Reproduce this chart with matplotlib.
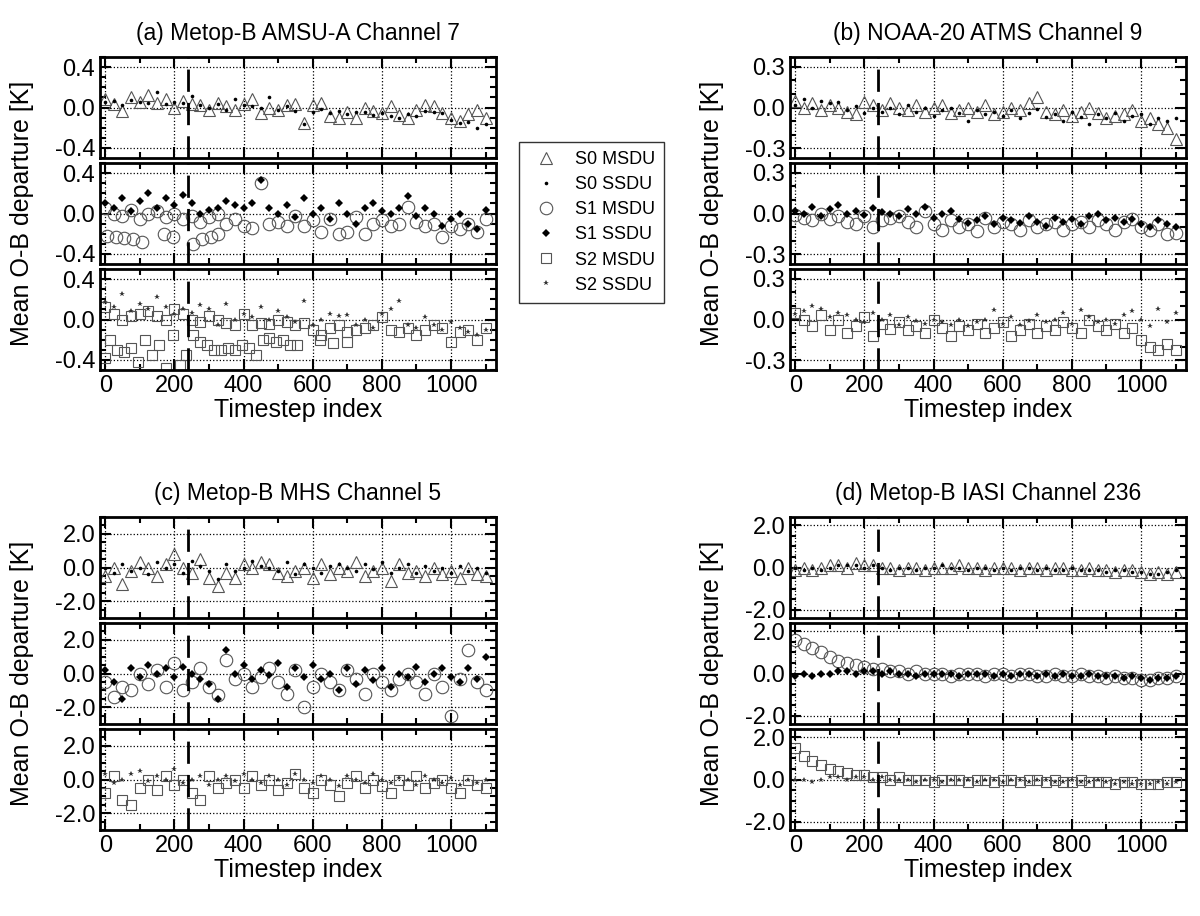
import matplotlib

matplotlib.use("Agg")
import matplotlib.pyplot as plt
from matplotlib.lines import Line2D
from matplotlib.ticker import MultipleLocator, FormatStrFormatter

plt.rcParams["font.family"] = ["Liberation Sans", "DejaVu Sans"]

X = list(range(0, 1101, 25))

# (a) Metop-B AMSU-A Channel 7
a1_s0m = [0.08,0.03,-0.03,0.10,0.05,0.12,0.04,0.08,0.00,0.06,0.03,0.02,-0.02,0.04,0.01,-0.02,0.03,0.08,-0.05,0.00,-0.02,0.02,0.03,-0.15,0.02,0.04,-0.08,-0.10,-0.04,-0.10,0.00,-0.03,-0.05,0.01,-0.07,-0.10,-0.02,0.02,0.01,-0.05,-0.10,-0.13,-0.06,-0.02,-0.10]
a1_s0s = [0.05,0.06,0.02,0.07,0.05,0.04,0.15,0.03,0.05,0.04,0.11,0.02,0.00,0.03,-0.02,0.08,0.02,0.01,0.00,0.10,-0.02,0.01,-0.03,-0.16,-0.04,-0.01,-0.05,-0.03,-0.06,-0.04,-0.04,-0.07,-0.05,-0.08,-0.10,-0.06,-0.08,-0.03,-0.04,-0.05,-0.12,-0.15,-0.14,-0.20,-0.16]
a2_s1m = [0.05,0.00,-0.02,0.03,-0.05,0.00,0.02,-0.03,0.00,-0.05,-0.02,-0.08,-0.03,0.00,-0.10,-0.05,-0.12,-0.14,0.30,-0.10,-0.08,-0.12,-0.02,-0.12,-0.06,-0.18,-0.05,-0.20,-0.18,-0.03,-0.20,-0.10,-0.06,-0.12,-0.10,0.06,-0.08,-0.12,-0.10,-0.23,-0.12,-0.15,-0.10,-0.18,-0.05]
a2_low_x = [5,30,55,80,105,170,195,255,280,305,325]
a2_low = [-0.22,-0.23,-0.24,-0.25,-0.28,-0.20,-0.23,-0.30,-0.25,-0.23,-0.20]
a2_s1s = [0.10,0.05,0.15,0.02,0.12,0.20,0.05,0.15,0.08,0.18,0.10,0.00,0.03,0.05,0.12,0.08,0.05,0.10,0.33,0.05,0.00,0.08,-0.03,0.15,0.00,0.05,-0.05,0.10,0.00,-0.10,0.05,0.10,0.02,0.00,0.05,0.17,-0.02,0.05,0.00,-0.12,-0.05,0.00,-0.10,-0.15,0.03]
a3_s2m = [0.12,0.05,0.00,0.03,0.05,0.08,0.03,0.00,0.10,0.05,0.00,-0.02,0.03,0.00,-0.03,-0.05,0.05,-0.05,-0.03,-0.04,0.00,-0.02,-0.05,-0.03,-0.10,-0.15,-0.08,-0.05,-0.12,-0.10,-0.08,-0.05,0.02,-0.10,-0.12,-0.08,-0.15,-0.10,-0.05,-0.08,-0.22,-0.12,-0.10,-0.20,-0.08]
a3_low_x = [0,15,35,55,75,95,115,135,155,175,195,215,235,255,275,295,315,335,355,375,395,415,435,455,475,495,515,535,555,620,660,700]
a3_low = [-0.38,-0.20,-0.30,-0.32,-0.28,-0.42,-0.20,-0.35,-0.25,-0.48,-0.15,-0.45,-0.35,-0.15,-0.22,-0.25,-0.30,-0.30,-0.28,-0.30,-0.25,-0.28,-0.35,-0.20,-0.18,-0.22,-0.20,-0.25,-0.25,-0.20,-0.23,-0.22]
a3_s2s = [0.17,0.12,0.25,0.08,0.15,0.10,0.22,0.12,0.05,0.10,0.06,0.14,0.10,-0.05,0.15,0.00,0.05,0.02,0.12,0.00,0.08,0.02,-0.02,0.18,-0.05,0.00,0.05,0.03,0.04,-0.05,0.00,-0.08,0.05,0.10,0.18,-0.05,-0.08,0.02,-0.05,-0.10,-0.02,-0.08,-0.12,-0.15,-0.10]

# (b) NOAA-20 ATMS Channel 9
b1_s0m = [0.05,0.00,0.03,-0.02,0.02,0.00,-0.03,-0.05,0.04,0.02,-0.02,0.03,0.00,-0.02,0.02,-0.03,0.00,0.02,-0.04,-0.02,0.00,-0.03,0.02,-0.05,-0.03,0.00,-0.02,0.03,0.08,-0.03,-0.05,-0.02,-0.06,-0.03,0.00,-0.04,-0.08,-0.06,-0.05,-0.02,-0.10,-0.08,-0.12,-0.15,-0.23]
b1_s0s = [0.02,0.06,0.00,0.05,0.03,0.04,-0.02,0.01,-0.04,0.00,-0.03,0.00,-0.05,0.02,-0.03,0.00,-0.06,-0.02,0.00,-0.04,-0.10,-0.02,-0.05,-0.03,-0.06,-0.02,-0.08,-0.04,-0.01,-0.07,-0.05,-0.10,-0.03,-0.07,-0.12,-0.05,-0.08,-0.04,-0.10,-0.06,-0.05,-0.12,-0.08,-0.10,-0.08]
b2_s1m = [-0.01,-0.03,-0.05,0.00,-0.04,-0.02,-0.06,-0.08,-0.02,-0.10,-0.05,-0.03,-0.02,-0.06,-0.10,0.02,-0.08,-0.12,-0.05,-0.10,-0.08,-0.13,-0.03,-0.10,-0.06,-0.08,-0.12,-0.05,-0.10,-0.08,-0.06,-0.12,-0.08,-0.06,-0.10,-0.05,-0.08,-0.12,-0.06,-0.04,-0.10,-0.12,-0.08,-0.15,-0.14]
b2_s1s = [0.02,0.00,0.05,-0.02,0.03,0.06,0.00,0.02,-0.01,0.04,0.01,0.00,-0.02,0.03,0.00,0.05,-0.03,0.00,0.02,-0.04,-0.07,-0.05,-0.02,-0.08,-0.03,-0.05,-0.07,-0.02,-0.06,-0.09,-0.03,-0.06,-0.04,-0.08,-0.02,0.00,-0.05,-0.03,-0.06,-0.04,-0.08,-0.10,-0.05,-0.08,-0.10]
b3_s2m = [0.05,0.00,-0.05,0.03,-0.08,0.00,-0.10,-0.05,0.02,-0.12,-0.03,-0.07,-0.02,-0.08,-0.05,-0.10,0.00,-0.06,-0.12,-0.05,-0.08,-0.03,-0.10,-0.06,-0.02,-0.12,-0.08,-0.03,-0.10,-0.05,-0.08,-0.02,-0.06,-0.10,0.00,-0.05,-0.08,-0.03,-0.10,-0.06,-0.15,-0.20,-0.22,-0.18,-0.22]
b3_s2s = [0.04,0.06,0.10,0.08,0.02,0.05,0.03,0.00,-0.02,0.05,0.00,0.03,-0.04,0.02,-0.01,-0.03,0.00,-0.02,-0.04,0.00,-0.05,-0.02,0.00,0.07,-0.03,0.02,-0.04,-0.01,0.03,-0.02,0.00,0.05,-0.03,0.07,0.02,-0.02,0.00,-0.03,0.03,0.06,0.00,-0.05,0.08,-0.02,0.05]

# (c) Metop-B MHS Channel 5
c1_s0m = [-0.5,0.0,-1.0,-0.2,0.3,0.0,-0.5,0.2,0.8,0.0,-0.3,0.5,-0.6,-1.1,-0.3,-0.6,0.2,0.0,0.3,0.2,-0.3,-0.5,-0.2,0.0,-0.6,0.2,-0.4,0.0,-0.2,0.3,-0.5,-0.2,0.0,-0.8,0.2,-0.3,-0.2,-0.5,0.0,-0.4,-0.2,-0.6,0.0,-0.4,-0.5]
c1_s0s = [0.0,-0.3,0.2,-0.2,0.0,-0.4,0.3,0.0,0.2,-0.3,0.4,0.1,-0.2,-0.7,0.2,-0.2,0.0,0.4,0.1,0.0,-0.2,0.3,-0.4,0.2,0.0,-0.3,0.1,0.2,0.0,-0.2,0.2,-0.1,0.3,-0.3,0.0,0.2,-0.3,0.1,-0.2,0.0,-0.3,0.1,-0.2,0.0,-0.3]
c2_s1m = [-0.5,-1.4,-0.8,-1.0,0.0,-0.6,0.2,-0.8,0.6,-1.0,-0.5,0.3,-0.8,-1.3,0.8,-0.3,0.0,-0.8,-0.2,0.3,-0.5,-1.2,0.2,-2.0,-0.8,0.0,-0.5,-1.0,0.2,-0.3,-1.2,0.0,-0.5,-1.0,-0.3,0.0,-0.5,-1.2,0.0,-0.8,-2.5,-0.3,1.4,-0.5,-1.0]
c2_s1s = [0.2,-0.5,-1.5,0.3,-0.2,0.5,0.0,0.3,-0.2,0.4,0.0,-0.3,-0.6,-1.5,1.4,0.0,0.5,-0.3,0.2,-0.1,0.6,-0.8,0.3,-0.2,0.5,-0.3,0.0,-1.0,0.3,-0.6,0.2,-0.4,0.3,-0.8,0.0,-0.2,0.4,-0.5,0.0,0.3,-0.2,-0.5,0.3,-0.3,1.0]
c3_s2m = [-0.8,0.2,-1.2,-1.5,-0.5,0.0,-0.6,0.2,-0.3,0.0,-0.8,-1.2,0.2,-0.5,-0.2,0.0,-0.5,0.2,-0.3,0.0,-0.6,-0.2,0.3,-0.5,-0.8,0.0,-0.3,-1.0,-0.2,0.2,-0.5,0.0,-0.4,-0.8,0.0,-0.3,0.2,-0.5,-0.2,0.0,-0.5,-0.8,0.0,-0.3,-0.5]
c3_s2s = [0.3,-0.2,0.0,0.3,0.5,-0.1,0.2,0.0,0.6,-0.2,0.0,0.2,-0.3,0.0,0.2,-0.1,0.3,0.0,-0.2,0.2,0.0,-0.3,0.3,0.0,-0.2,0.2,0.0,-0.4,0.2,0.0,-0.2,0.3,0.0,-0.2,0.1,0.0,-0.3,0.2,0.0,-0.2,0.1,-0.3,0.0,-0.2,0.0]

# (d) Metop-B IASI Channel 236
d1_s0m = [-0.1,0.0,-0.1,0.0,0.1,0.1,0.0,0.2,0.1,0.1,0.0,0.0,-0.1,0.0,0.0,-0.1,0.0,0.0,0.0,0.1,0.0,0.0,-0.1,0.0,0.0,0.0,-0.1,0.0,0.0,-0.1,0.0,0.0,-0.1,-0.1,0.0,-0.1,-0.1,-0.2,-0.1,-0.1,-0.2,-0.3,-0.2,-0.3,-0.2]
d1_s0s = [0.0,-0.1,0.0,-0.1,0.0,0.1,0.1,0.1,0.0,0.1,0.0,-0.1,0.0,0.0,-0.1,0.0,0.0,0.1,0.0,0.0,-0.1,0.0,0.0,-0.1,0.0,-0.1,0.0,0.0,-0.1,0.0,-0.1,-0.1,0.0,-0.1,-0.1,-0.1,-0.2,-0.1,-0.1,-0.2,-0.2,-0.3,-0.3,-0.2,-0.1]
d2_s1m = [1.6,1.4,1.2,1.0,0.8,0.6,0.5,0.4,0.3,0.2,0.2,0.1,0.1,0.0,0.1,0.0,0.0,0.0,-0.1,0.0,0.0,0.0,-0.1,0.0,0.0,-0.1,0.0,0.0,-0.1,-0.1,0.0,-0.1,-0.1,0.0,-0.1,-0.1,-0.2,-0.1,-0.2,-0.2,-0.3,-0.3,-0.2,-0.2,-0.1]
d2_s1s = [-0.1,0.0,-0.1,0.0,0.0,0.1,0.1,0.0,0.1,0.1,0.0,0.1,0.0,0.0,-0.1,0.0,0.0,0.0,0.0,-0.1,0.0,0.0,0.0,-0.1,0.0,-0.1,0.0,0.0,-0.1,0.0,-0.1,0.0,-0.1,-0.1,0.0,-0.1,-0.1,-0.1,-0.2,-0.1,-0.2,-0.3,-0.2,-0.2,-0.1]
d3_s2m = [1.5,1.1,0.9,0.7,0.5,0.4,0.3,0.2,0.2,0.1,0.1,0.0,0.1,0.0,0.0,0.0,-0.1,0.0,0.0,0.0,-0.1,0.0,0.0,-0.1,0.0,0.0,-0.1,0.0,0.0,-0.1,0.0,-0.1,-0.1,0.0,-0.1,-0.1,-0.1,-0.2,-0.1,-0.1,-0.2,-0.2,-0.2,-0.1,-0.1]
d3_s2s = [0.0,0.0,-0.1,0.0,0.1,0.1,0.0,0.1,0.1,0.0,0.1,0.0,0.0,0.0,-0.1,0.0,0.0,-0.1,0.0,0.0,0.0,-0.1,0.0,0.0,-0.1,0.0,0.0,-0.1,0.0,0.0,-0.1,-0.1,0.0,-0.1,-0.1,0.0,-0.1,-0.2,-0.1,-0.2,-0.2,-0.2,-0.1,-0.2,-0.1]

TITLES = ["(a) Metop-B AMSU-A Channel 7", "(b) NOAA-20 ATMS Channel 9",
          "(c) Metop-B MHS Channel 5", "(d) Metop-B IASI Channel 236"]
YLIMS = [0.5, 0.37, 3.0, 2.4]
YMAJOR = [0.4, 0.3, 2.0, 2.0]
YMINOR = [0.1, 0.1, 0.5, 0.5]

GRAY = "#555555"
STYLE = {
    "s0m": dict(marker="^", ms=8, mfc="none", mec=GRAY, mew=0.8),
    "s0s": dict(marker="o", ms=2.6, mfc="black", mec="black", mew=0),
    "s1m": dict(marker="o", ms=9, mfc="none", mec=GRAY, mew=0.8),
    "s1s": dict(marker="D", ms=4.5, mfc="black", mec="black", mew=0),
    "s2m": dict(marker="s", ms=7.5, mfc="none", mec=GRAY, mew=0.8),
    "s2s": dict(marker="*", ms=4, mfc="#333333", mec="#333333", mew=0),
}

panels = [
    [(("s0m", X, a1_s0m), ("s0s", X, a1_s0s)),
     (("s1m", X, a2_s1m), ("s1m", a2_low_x, a2_low), ("s1s", X, a2_s1s)),
     (("s2m", X, a3_s2m), ("s2m", a3_low_x, a3_low), ("s2s", X, a3_s2s))],
    [(("s0m", X, b1_s0m), ("s0s", X, b1_s0s)),
     (("s1m", X, b2_s1m), ("s1s", X, b2_s1s)),
     (("s2m", X, b3_s2m), ("s2s", X, b3_s2s))],
    [(("s0m", X, c1_s0m), ("s0s", X, c1_s0s)),
     (("s1m", X, c2_s1m), ("s1s", X, c2_s1s)),
     (("s2m", X, c3_s2m), ("s2s", X, c3_s2s))],
    [(("s0m", X, d1_s0m), ("s0s", X, d1_s0s)),
     (("s1m", X, d2_s1m), ("s1s", X, d2_s1s)),
     (("s2m", X, d3_s2m), ("s2s", X, d3_s2s))],
]

W, H = 1200, 916
fig = plt.figure(figsize=(12, 9.16), dpi=100)

LEFTS = [100, 790, 100, 790]
TOPS = [57, 57, 517, 517]
SUB_H, GAP, AX_W = 101, 5, 396

for p in range(4):
    for s in range(3):
        top = TOPS[p] + s * (SUB_H + GAP)
        ax = fig.add_axes([LEFTS[p] / W, 1 - (top + SUB_H) / H, AX_W / W, SUB_H / H])
        for key, xs, ys in panels[p][s]:
            ax.plot(xs, ys, ls="none", **STYLE[key])
        ax.set_xlim(-15, 1130)
        ax.set_ylim(-YLIMS[p], YLIMS[p])
        ax.xaxis.set_major_locator(MultipleLocator(200))
        ax.xaxis.set_minor_locator(MultipleLocator(100))
        ax.yaxis.set_major_locator(MultipleLocator(YMAJOR[p]))
        ax.yaxis.set_minor_locator(MultipleLocator(YMINOR[p]))
        ax.yaxis.set_major_formatter(FormatStrFormatter("%.1f"))
        ax.tick_params(which="both", direction="in", top=True, right=True, labelsize=17, width=1.5)
        ax.tick_params(which="major", length=8)
        ax.tick_params(which="minor", length=4)
        ax.grid(True, which="major", ls=":", color="black", lw=0.9)
        ax.axvline(240, color="black", lw=2, dashes=(8, 4))
        for sp in ax.spines.values():
            sp.set_linewidth(2)
        if s == 0:
            ax.set_title(TITLES[p], fontsize=16.5, pad=12)
        if s < 2:
            ax.tick_params(labelbottom=False)
        else:
            ax.set_xlabel("Timestep index", fontsize=18, labelpad=1)
    mid = TOPS[p] + (3 * SUB_H + 2 * GAP) / 2
    fig.text((LEFTS[p] - 78) / W, 1 - mid / H, "Mean O-B departure [K]",
             rotation=90, ha="center", va="center", fontsize=18)

labels = ["S0 MSDU", "S0 SSDU", "S1 MSDU", "S1 SSDU", "S2 MSDU", "S2 SSDU"]
handles = [Line2D([], [], ls="none", **STYLE[k]) for k in ["s0m", "s0s", "s1m", "s1s", "s2m", "s2s"]]
leg = fig.legend(handles, labels, loc="upper left", bbox_to_anchor=(510 / W, 1 - 133 / H),
                 fontsize=13, frameon=True, fancybox=False, edgecolor="black",
                 handletextpad=0.6, labelspacing=0.45, borderpad=0.5)
leg.get_frame().set_linewidth(1.0)

fig.savefig("out.png", dpi=100)
